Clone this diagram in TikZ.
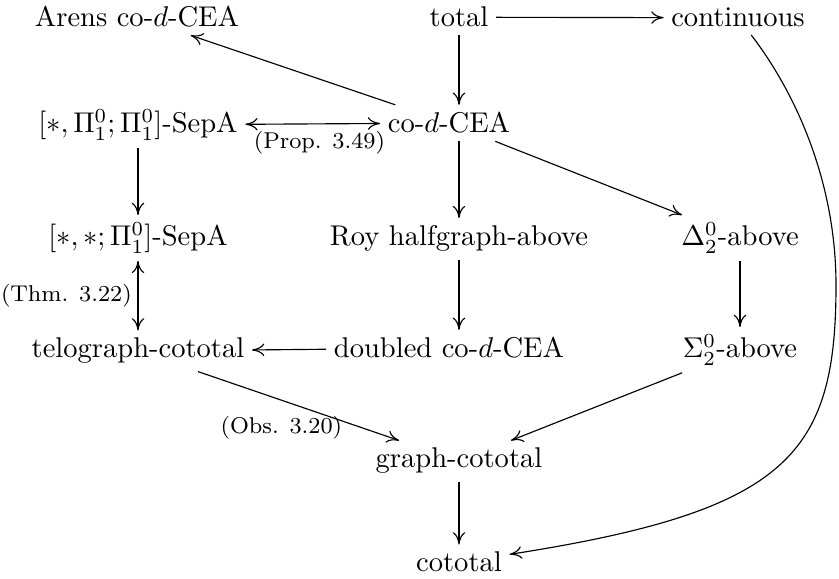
\documentclass[tikz,border=0pt]{standalone}
\usetikzlibrary{arrows.meta}
\begin{document}
\begin{tikzpicture}[x=0.3503pt, y=-0.3503pt,
  every node/.style={inner sep=2.5pt},
  n/.style={anchor=base},
  ar/.style={-{Computer Modern Rightarrow[length=4.3pt,width=4.4pt]}, line width=0.4pt},
  dar/.style={{Computer Modern Rightarrow[length=4.3pt,width=4.4pt]}-{Computer Modern Rightarrow[length=4.3pt,width=4.4pt]}, line width=0.4pt},
  lbl/.style={font=\footnotesize, inner sep=1pt}]
\useasboundingbox (0,0) rectangle (839,579);
\node[n] (arens) at (137,27) {Arens co-$d$-CEA};
\node[n] (total) at (459,27) {total};
\node[n] (cont) at (738,27) {continuous};
\node[n] (sepa) at (138,133) {$[*,\Pi^0_1;\Pi^0_1]$-SepA};
\node[n] (cod) at (449,133) {co-$d$-CEA};
\node[n] (sepb) at (138,246) {$[*,*;\Pi^0_1]$-SepA};
\node[n] (roy) at (459,246) {Roy halfgraph-above};
\node[n] (delta) at (740,246) {$\Delta^0_2$-above};
\node[n] (telo) at (138,358) {telograph-cototal};
\node[n] (dbl) at (449,358) {doubled co-$d$-CEA};
\node[n] (sigma) at (740,358) {$\Sigma^0_2$-above};
\node[n] (graph) at (459,468) {graph-cototal};
\node[n] (coto) at (459,572) {cototal};

\draw[ar] (total) -- (cont);
\draw[ar] (total) -- (total |- cod.north);
\draw[ar] (cod) -- (arens);
\draw[dar] (sepa) -- node[lbl, below, pos=0.55, yshift=-1.5pt] {(Prop. 3.49)} (cod);
\draw[ar] (cod.south -| roy) -- (roy);
\draw[ar] (cod) -- (delta);
\draw[ar] (sepa) -- (sepb);
\draw[dar] (sepb) -- node[lbl, left, inner sep=2pt] {(Thm. 3.22)} (telo);
\draw[ar] (roy) -- (roy |- dbl.north);
\draw[ar] (delta) -- (sigma);
\draw[ar] (dbl) -- (telo);
\draw[ar] (telo) -- node[lbl, pos=0.5, xshift=-6pt, yshift=-7.6pt] {(Obs. 3.20)} (graph);
\draw[ar] (sigma) -- (graph);
\draw[ar] (graph) -- (coto);
\draw[ar] (cont) .. controls (798,96) and (836,185) .. (836,285)
               .. controls (836,455) and (788,511) .. (coto);
\end{tikzpicture}
\end{document}
